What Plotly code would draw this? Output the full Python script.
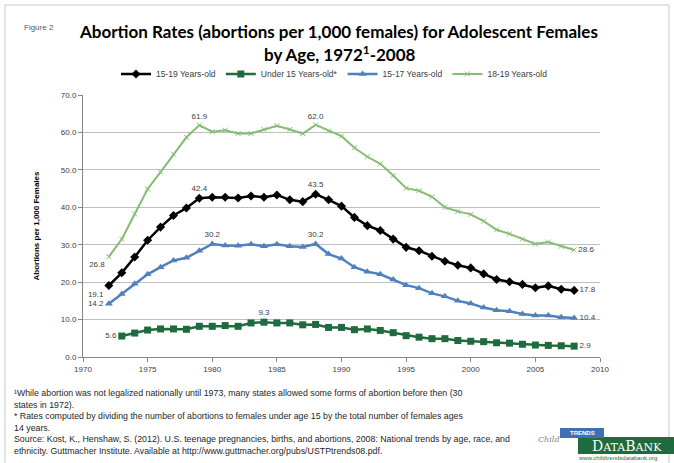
import plotly.graph_objects as go

W, H = 674, 463
L, R, T, B = 83, 600, 95, 357  # plot area in pixels

years = list(range(1972, 2009))
years_u15 = list(range(1973, 2009))

rate_15_19 = [19.1, 22.5, 26.7, 31.2, 34.7, 37.8, 39.8, 42.4, 42.7, 42.7,
              42.5, 43.0, 42.7, 43.3, 42.0, 41.5, 43.5, 42.0, 40.3, 37.3,
              35.1, 33.8, 31.5, 29.3, 28.4, 26.9, 25.6, 24.5, 23.8, 22.2,
              20.7, 20.1, 19.4, 18.5, 19.0, 18.1, 17.8]
rate_u15 = [5.6, 6.4, 7.2, 7.5, 7.5, 7.4, 8.2, 8.2, 8.4, 8.2,
            9.1, 9.3, 9.1, 9.1, 8.6, 8.7, 7.9, 7.9, 7.3, 7.5,
            7.1, 6.5, 5.7, 5.3, 4.9, 4.9, 4.4, 4.2, 4.1, 3.8,
            3.7, 3.4, 3.2, 3.1, 3.0, 2.9]
rate_15_17 = [14.2, 16.8, 19.6, 22.1, 24.0, 25.8, 26.5, 28.4, 30.2, 29.8,
              29.7, 30.1, 29.6, 30.1, 29.6, 29.4, 30.2, 27.5, 26.3, 24.0,
              22.8, 22.1, 20.7, 19.2, 18.4, 17.0, 16.2, 15.0, 14.3, 13.2,
              12.5, 12.2, 11.5, 11.1, 11.1, 10.6, 10.4]
rate_18_19 = [26.8, 31.5, 38.2, 44.9, 49.4, 54.2, 58.7, 61.9, 60.2, 60.6,
              59.7, 59.7, 60.8, 61.8, 60.8, 59.7, 62.0, 60.4, 59.0, 55.9,
              53.5, 51.6, 48.5, 45.1, 44.4, 42.8, 40.0, 38.9, 38.1, 36.3,
              34.0, 32.9, 31.5, 30.2, 30.7, 29.6, 28.6]

series_names = ["15-19 Years-old", "Under 15 Years-old*", "15-17 Years-old", "18-19 Years-old"]

# labelled points: year -> text position
labels_15_19 = {1972: "bottom left", 1979: "top center", 1988: "top center", 2008: "middle right"}
labels_u15 = {1973: "middle left", 1984: "top center", 2008: "middle right"}
labels_15_17 = {1972: "middle left", 1980: "top center", 1988: "top center", 2008: "middle right"}
labels_18_19 = {1972: "bottom left", 1979: "top center", 1988: "top center", 2008: "middle right"}

x_ticks = [1970, 1975, 1980, 1985, 1990, 1995, 2000, 2005, 2010]
y_ticks = [0, 10, 20, 30, 40, 50, 60, 70]

footnotes = [
    "\u00b9While abortion was not legalized nationally until 1973, many states allowed some forms of abortion before then (30",
    "states in 1972).",
    "* Rates computed by dividing the number of abortions to females under age 15 by the total number of females ages",
    "14 years.",
    "Source: Kost, K., Henshaw, S. (2012). U.S. teenage pregnancies, births, and abortions, 2008: National trends by age, race, and",
    "ethnicity. Guttmacher Institute. Available at http://www.guttmacher.org/pubs/USTPtrends08.pdf.",
]


def px(xp):
    return (xp - L) / (R - L)


def py(yp):
    return (B - yp) / (B - T)


def label_arrays(xs, ys, lab):
    text = [(f"{v:.1f}" if x in lab else "") for x, v in zip(xs, ys)]
    pos = [lab.get(x, "top center") for x in xs]
    return text, pos


def note(text, x, y, font, xanchor="left"):
    return dict(text=text, x=px(x), y=py(y), xref="paper", yref="paper", showarrow=False,
                xanchor=xanchor, yanchor="middle", font=font)


TXT = dict(family="Liberation Sans, Arial, sans-serif", size=8, color="#404040")
LIGHT = "#86bd72"

fig = go.Figure()

specs = [
    (series_names[0], years, rate_15_19, labels_15_19, "#000000", dict(symbol="diamond", size=7)),
    (series_names[1], years_u15, rate_u15, labels_u15, "#1e6b3d", dict(symbol="square", size=7)),
    (series_names[2], years, rate_15_17, labels_15_17, "#4f81bd", dict(symbol="triangle-up", size=7)),
    (series_names[3], years, rate_18_19, labels_18_19, LIGHT, dict(symbol="x-thin", size=5,
                                                                  line=dict(width=1, color=LIGHT))),
]
for name, xs, ys, lab, col, mk in specs:
    text, pos = label_arrays(xs, ys, lab)
    fig.add_trace(go.Scatter(
        x=xs, y=ys, name=name, mode="lines+markers+text",
        line=dict(color=col, width=2.5 if col != LIGHT else 2),
        marker=dict(color=col, **mk),
        text=text, textposition=pos, textfont=TXT, cliponaxis=False,
    ))

fig.update_xaxes(range=[1970, 2010], tickvals=x_ticks, ticktext=[str(v) for v in x_ticks],
                 showgrid=False, showline=True, linecolor="#868686", linewidth=1,
                 ticks="outside", ticklen=4, tickcolor="#868686", zeroline=False,
                 tickfont=dict(family="Liberation Sans, Arial, sans-serif", size=8, color="#404040"))
fig.update_yaxes(range=[0, 70], tickvals=y_ticks, tickformat=".1f",
                 showgrid=True, gridcolor="#bfbfbf", gridwidth=1,
                 showline=True, linecolor="#868686", linewidth=1,
                 ticks="outside", ticklen=4, tickcolor="#868686", zeroline=False,
                 tickfont=dict(family="Liberation Sans, Arial, sans-serif", size=8, color="#404040"),
                 title=dict(text="<b>Abortions per 1,000 Females</b>", standoff=20,
                            font=dict(family="Liberation Sans, Arial, sans-serif", size=8, color="#000000")))

annotations = [
    note("Figure 2", 22, 28, dict(family="Liberation Sans, Arial, sans-serif", size=8, color="#595959")),
    note("<b>Abortion Rates (abortions per 1,000 females) for Adolescent Females</b>", 338, 31,
         dict(family="Lato, sans-serif", size=17, color="#000000"), "center"),
    note("<b>by Age, 1972<sup>1</sup>-2008</b>", 340, 53,
         dict(family="Lato, sans-serif", size=17, color="#000000"), "center"),
]
line_y = [393, 404.5, 416, 427.5, 439, 450.5]
for i, (t, yy) in enumerate(zip(footnotes, line_y)):
    annotations.append(note(t, 12, yy, dict(family="Liberation Sans, Arial, sans-serif",
                                            size=8.8, color="#262626")))
# logo texts
annotations += [
    note("<i>Child</i>", 549, 439, dict(family="DejaVu Serif, serif", size=8, color="#7f7f7f"), "center"),
    note("<b>TRENDS</b>", 582, 433, dict(family="Liberation Sans, sans-serif", size=6, color="#ffffff"), "center"),
    note("D<span style='font-size:11px'>ATA</span>B<span style='font-size:11px'>ANK</span>", 627, 445.5,
         dict(family="DejaVu Serif, serif", size=14, color="#ffffff"), "center"),
    note("www.childtrendsdatabank.org", 617, 458,
         dict(family="Liberation Sans, sans-serif", size=6, color="#1e6b3d"), "center"),
]

shapes = [
    dict(type="rect", xref="paper", yref="paper", x0=px(5), x1=px(669), y0=py(5), y1=py(475),
         line=dict(color="#c8c8c8", width=1), fillcolor="rgba(0,0,0,0)", layer="below"),
    dict(type="rect", xref="paper", yref="paper", x0=px(578), x1=px(676), y0=py(437), y1=py(454),
         line=dict(width=0), fillcolor="#1e6b3d"),
    dict(type="rect", xref="paper", yref="paper", x0=px(560), x1=px(604), y0=py(428), y1=py(438),
         line=dict(width=0), fillcolor="#3f6fb5"),
]

fig.update_layout(
    width=W, height=H,
    margin=dict(l=L, r=W - R, t=T, b=H - B, pad=0),
    plot_bgcolor="white", paper_bgcolor="white",
    showlegend=True,
    legend=dict(orientation="h", x=px(116), y=py(74), xanchor="left", yanchor="middle",
                font=dict(family="Liberation Sans, Arial, sans-serif", size=8.5, color="#404040"),
                bgcolor="rgba(0,0,0,0)", itemwidth=30, tracegroupgap=0),
    annotations=annotations,
    shapes=shapes,
)

fig.write_html("out.html", config={"displayModeBar": False},
               post_script="document.body.style.margin='0';document.body.style.overflow='hidden';")
